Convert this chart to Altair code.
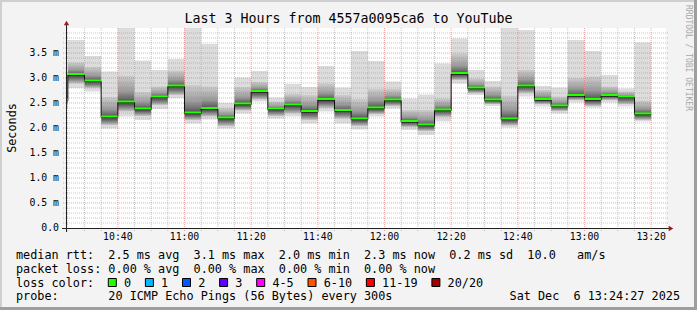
import altair as alt
import pandas as pd

# ---------------- data ----------------
times = ["10:20", "10:25", "10:30", "10:35", "10:40", "10:45", "10:50", "10:55",
         "11:00", "11:05", "11:10", "11:15", "11:20", "11:25", "11:30", "11:35",
         "11:40", "11:45", "11:50", "11:55", "12:00", "12:05", "12:10", "12:15",
         "12:20", "12:25", "12:30", "12:35", "12:40", "12:45", "12:50", "12:55",
         "13:00", "13:05", "13:10", "13:15"]
# round-trip times in ms
ping_min = [2.40, 2.80, 2.73, 1.99, 2.23, 2.16, 2.38, 2.60, 2.09, 2.17, 1.99, 2.29,
            2.53, 2.19, 2.23, 2.09, 2.33, 2.09, 1.97, 2.23, 2.39, 1.96, 1.86, 2.13,
            2.89, 2.66, 2.44, 2.01, 2.63, 2.43, 2.29, 2.51, 2.41, 2.51, 2.43, 2.13]
ping_low = [2.48, 2.89, 2.80, 2.06, 2.33, 2.24, 2.46, 2.66, 2.16, 2.23, 2.04, 2.35,
            2.57, 2.24, 2.29, 2.16, 2.40, 2.19, 2.04, 2.28, 2.44, 2.02, 1.94, 2.22,
            2.96, 2.70, 2.48, 2.05, 2.70, 2.48, 2.34, 2.56, 2.44, 2.56, 2.48, 2.16]
median = [2.55, 3.06, 2.93, 2.21, 2.51, 2.37, 2.61, 2.83, 2.29, 2.38, 2.19, 2.47,
          2.72, 2.37, 2.45, 2.32, 2.56, 2.34, 2.17, 2.39, 2.55, 2.12, 2.05, 2.35,
          3.08, 2.79, 2.55, 2.17, 2.83, 2.56, 2.43, 2.64, 2.56, 2.64, 2.61, 2.27]
ping_high = [2.75, 3.31, 3.22, 2.62, 3.05, 2.72, 2.83, 3.15, 2.86, 2.83, 2.40, 2.82,
             2.92, 2.53, 2.68, 2.66, 2.89, 2.66, 2.58, 2.78, 2.78, 2.36, 2.36, 2.59,
             3.49, 2.99, 2.83, 2.65, 3.16, 2.76, 2.63, 3.00, 3.03, 2.83, 2.73, 2.55]
ping_max = [2.95, 3.76, 3.44, 3.13, 4.10, 3.35, 3.16, 3.38, 4.10, 3.68, 2.50, 3.01,
            3.14, 2.61, 2.88, 2.82, 3.24, 2.81, 3.54, 3.34, 2.93, 2.59, 2.67, 3.29,
            3.79, 3.16, 2.94, 4.10, 3.96, 2.84, 2.81, 3.76, 3.54, 3.06, 2.79, 3.71]

x_tick_values = [40, 60, 80, 100, 120, 140, 160, 180, 200]   # minutes after 10:00
x_tick_labels = ["10:40", "11:00", "11:20", "11:40", "12:00", "12:20", "12:40", "13:00", "13:20"]
y_tick_values = [0.0, 0.5, 1.0, 1.5, 2.0, 2.5, 3.0, 3.5]
y_tick_labels = ["0.0", "0.5 m", "1.0 m", "1.5 m", "2.0 m", "2.5 m", "3.0 m", "3.5 m"]

loss_labels = ["0", "1", "2", "3", "4-5", "6-10", "11-19", "20/20"]
loss_colors = ["#26ff00", "#00b8ff", "#0059ff", "#5e00ff", "#ff00ff", "#ff5500", "#ff0000", "#a10000"]

title_text = "Last 3 Hours from 4557a0095ca6 to YouTube"
legend_lines = [
    "median rtt:  2.5 ms avg  3.1 ms max  2.0 ms min  2.3 ms now  0.2 ms sd  10.0   am/s",
    "packet loss: 0.00 % avg  0.00 % max  0.00 % min  0.00 % now",
    "loss color:",
    "probe:       20 ICMP Echo Pings (56 Bytes) every 300s",
]
date_text = "Sat Dec  6 13:24:27 2025"
watermark = "RRDTOOL / TOBI OETIKER"

# ---------------- layout ----------------
W, H = 600, 200
PL, PT, PR, PB = 66, 28, 31, 82
FULL_W, FULL_H = PL + W + PR, PT + H + PB
MONO = "DejaVu Sans Mono"
NBSP = "\u00a0"


def keep_spaces(s):
    return s.replace(" ", NBSP)


def to_min(s):
    h, m = s.split(":")
    return (int(h) - 10) * 60 + int(m)


df = pd.DataFrame({
    "t0": [to_min(t) for t in times],
    "lo": ping_min, "q1": ping_low, "med": median, "q3": ping_high, "hi": ping_max,
})
df["t1"] = df["t0"] + 5

line_df = pd.DataFrame({
    "t": list(df["t0"]) + [int(df["t1"].iloc[-1])],
    "med": median + [median[-1]],
})

xs = alt.Scale(domain=[24.45, 204.45], nice=False, zero=False)
ys = alt.Scale(domain=[0, 4], nice=False, zero=False)

base = alt.Chart(df)

smoke_outer = base.mark_rect(fill="#dcdcdc", clip=True).encode(
    x=alt.X("t0:Q", scale=xs, axis=None), x2="t1:Q",
    y=alt.Y("lo:Q", scale=ys, axis=None), y2="hi:Q")

grad_up = alt.Gradient(gradient="linear", x1=0, x2=0, y1=0, y2=1,
                       stops=[alt.GradientStop(offset=0, color="#cdcdcd"),
                              alt.GradientStop(offset=0.6, color="#9a9a9a"),
                              alt.GradientStop(offset=1, color="#4a4a4a")])
grad_dn = alt.Gradient(gradient="linear", x1=0, x2=0, y1=0, y2=1,
                       stops=[alt.GradientStop(offset=0, color="#3c3c3c"),
                              alt.GradientStop(offset=0.6, color="#8c8c8c"),
                              alt.GradientStop(offset=1, color="#c8c8c8")])

smoke_up = base.mark_rect(fill=grad_up, clip=True).encode(
    x=alt.X("t0:Q", scale=xs, axis=None), x2="t1:Q",
    y=alt.Y("q3:Q", scale=ys, axis=None), y2="med:Q")
smoke_dn = base.mark_rect(fill=grad_dn, clip=True).encode(
    x=alt.X("t0:Q", scale=xs, axis=None), x2="t1:Q",
    y=alt.Y("med:Q", scale=ys, axis=None), y2="q1:Q")

# grid
x_minor = [m for m in range(25, 205, 5) if m % 20 != 0]
y_minor = [round(i * 0.1, 1) for i in range(1, 40) if i % 5 != 0]
y_major = [v for v in y_tick_values if v > 0]

vgrid_minor = alt.Chart(pd.DataFrame({"g": x_minor})).mark_rule(
    color="#8c8c8c", opacity=0.5, strokeDash=[1, 1]).encode(
    x=alt.X("g:Q", scale=xs, axis=None), y=alt.value(0), y2=alt.value(H + 3))
vgrid_major = alt.Chart(pd.DataFrame({"g": x_tick_values})).mark_rule(
    color="#e03c3c", opacity=0.45, strokeDash=[1, 1]).encode(
    x=alt.X("g:Q", scale=xs, axis=None), y=alt.value(0), y2=alt.value(H + 3))
hgrid_minor = alt.Chart(pd.DataFrame({"g": y_minor})).mark_rule(
    color="#8c8c8c", opacity=0.5, strokeDash=[1, 1]).encode(
    y=alt.Y("g:Q", scale=ys, axis=None), x=alt.value(-3), x2=alt.value(W + 2))
hgrid_major = alt.Chart(pd.DataFrame({"g": y_major})).mark_rule(
    color="#e03c3c", opacity=0.45, strokeDash=[1, 1]).encode(
    y=alt.Y("g:Q", scale=ys, axis=None), x=alt.value(-3), x2=alt.value(W + 2))

# tick labels drawn from the tick arrays through the shared scales
x_labels = alt.Chart(pd.DataFrame({"v": x_tick_values, "l": x_tick_labels})).mark_text(
    font=MONO, fontSize=9.8, align="center", baseline="middle", color="black").encode(
    x=alt.X("v:Q", scale=xs, axis=None), y=alt.value(H + 8.5), text="l:N")
y_labels = alt.Chart(pd.DataFrame({"v": y_tick_values,
                                   "l": [keep_spaces(s) for s in y_tick_labels]})).mark_text(
    font=MONO, fontSize=9.8, align="right", baseline="middle", color="black").encode(
    y=alt.Y("v:Q", scale=ys, axis=None), x=alt.value(-7), text="l:N")

# median
med_line = alt.Chart(line_df).mark_line(interpolate="step-after", color="#111111",
                                        strokeWidth=1, clip=True).encode(
    x=alt.X("t:Q", scale=xs, axis=None), y=alt.Y("med:Q", scale=ys, axis=None))
med_green = base.mark_rule(color="#26ff00", strokeWidth=2, yOffset=-1, clip=True).encode(
    x=alt.X("t0:Q", scale=xs, axis=None), x2="t1:Q", y=alt.Y("med:Q", scale=ys, axis=None))

one = pd.DataFrame({"a": [0]})

# axes lines + arrows
y_axis_line = alt.Chart(one).mark_rule(color="#222222", strokeWidth=1).encode(
    x=alt.value(0.5), y=alt.value(-4), y2=alt.value(H + 4))
x_axis_line = alt.Chart(one).mark_rule(color="#222222", strokeWidth=1).encode(
    x=alt.value(-4), x2=alt.value(W + 4), y=alt.value(H + 0.5))
arrow_up = alt.Chart(one).mark_point(shape="triangle-up", filled=True, size=28,
                                     fill="#9e1b1b", strokeWidth=0, opacity=1).encode(
    x=alt.value(0.5), y=alt.value(-5))
arrow_right = alt.Chart(one).mark_point(shape="triangle-right", filled=True, size=28,
                                        fill="#9e1b1b", strokeWidth=0, opacity=1).encode(
    x=alt.value(W + 5), y=alt.value(H + 0.5))


def text_layer(txt, x, y, size=11.8, align="left", angle=0, color="black"):
    return alt.Chart(one).mark_text(font=MONO, fontSize=size, align=align,
                                    baseline="middle", angle=angle, color=color).encode(
        x=alt.value(x - PL), y=alt.value(y - PT), text=alt.value(keep_spaces(txt)))


texts = [
    text_layer(title_text, FULL_W / 2, 19, size=13.3, align="center"),
    text_layer("Seconds", 12, 128, size=11.8, align="center", angle=270),
    text_layer(watermark, 688, 5, size=8, align="left", angle=90, color="#a8a8a8"),
    text_layer(date_text, 680, 296, align="right"),
]
for line, ypos in zip(legend_lines, [254.5, 268.5, 282.5, 296]):
    texts.append(text_layer(line, 16, ypos))

# loss colour legend squares
CW = 7.1
sq_x = []
pos = 108.3
for lab in loss_labels:
    sq_x.append(pos)
    pos += 30 + CW * len(lab)
sq_df = pd.DataFrame({
    "sx": [v - PL for v in sq_x],
    "sx2": [v - PL + 8 for v in sq_x],
    "tx": [v - PL + 15.7 for v in sq_x],
    "col": loss_colors,
    "lab": loss_labels,
})
squares = alt.Chart(sq_df).mark_rect(stroke="black", strokeWidth=1).encode(
    x=alt.X("sx:Q", scale=None), x2="sx2:Q",
    y=alt.value(278.5 - PT), y2=alt.value(286.5 - PT),
    fill=alt.Fill("col:N", scale=None))
sq_text = alt.Chart(sq_df).mark_text(font=MONO, fontSize=11.8, align="left",
                                     baseline="middle", color="black").encode(
    x=alt.X("tx:Q", scale=None), y=alt.value(282.5 - PT), text="lab:N")

# frame (3D border)
frame_df = pd.DataFrame({
    "x1": [-PL, -PL, -PL, FULL_W - PL - 3],
    "x2": [FULL_W - PL, -PL + 2, FULL_W - PL, FULL_W - PL],
    "y1": [-PT, -PT, FULL_H - PT - 3, -PT],
    "y2": [-PT + 2, FULL_H - PT, FULL_H - PT, FULL_H - PT],
    "c": ["#cfcfcf", "#cfcfcf", "#9e9e9e", "#9e9e9e"],
})
frame = alt.Chart(frame_df).mark_rect().encode(
    x=alt.X("x1:Q", scale=None), x2="x2:Q",
    y=alt.Y("y1:Q", scale=None), y2="y2:Q",
    fill=alt.Fill("c:N", scale=None))

chart = alt.layer(
    smoke_outer, smoke_up, smoke_dn,
    vgrid_minor, hgrid_minor, vgrid_major, hgrid_major,
    med_line, med_green,
    x_axis_line, y_axis_line, arrow_up, arrow_right,
    x_labels, y_labels,
    squares, sq_text, frame, *texts,
).properties(
    width=W, height=H, autosize="none",
    padding={"left": PL, "top": PT, "right": PR, "bottom": PB},
).configure(background="#f3f3f3").configure_view(stroke=None, fill="white")

chart.save("out.html", embed_options={"renderer": "svg", "actions": False})
